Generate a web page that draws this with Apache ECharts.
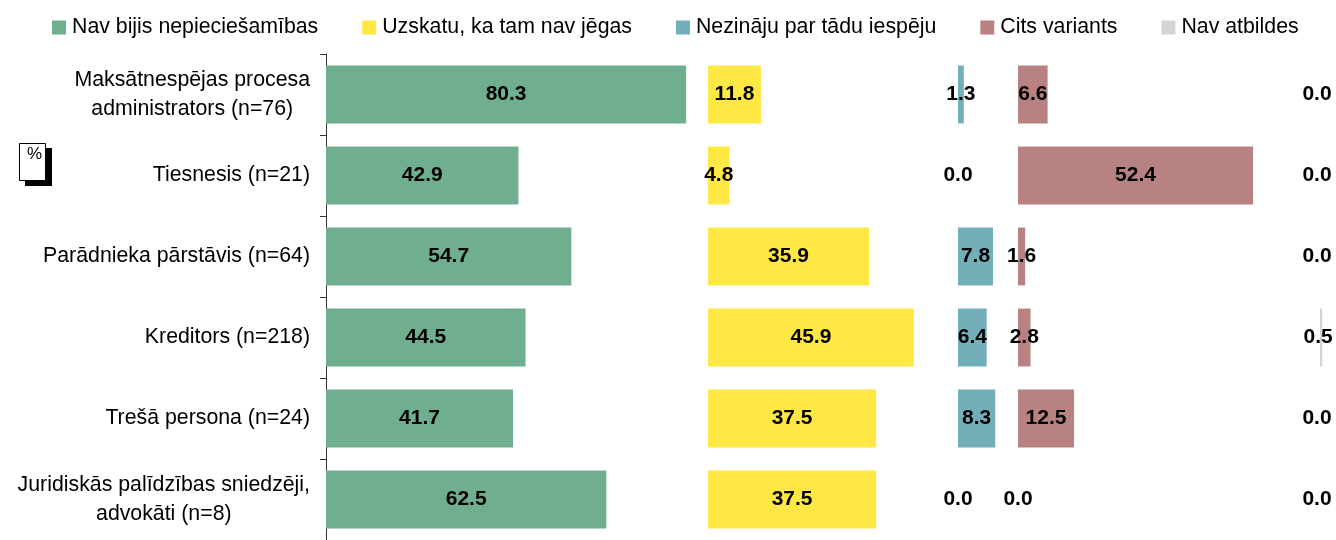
<!DOCTYPE html>
<html>
<head>
<meta charset="utf-8">
<script src="https://cdn.jsdelivr.net/npm/echarts@6/dist/echarts.min.js"></script>
<style>
  html, body { margin: 0; padding: 0; background: #fff; }
  #chart { width: 1336px; height: 540px; }
</style>
</head>
<body>
<div id="chart"></div>
<script>
// kategorijas (respondentu grupas)
const categories = [
  'Maksātnespējas procesa\nadministrators (n=76)',
  'Tiesnesis (n=21)',
  'Parādnieka pārstāvis (n=64)',
  'Kreditors (n=218)',
  'Trešā persona (n=24)',
  'Juridiskās palīdzības sniedzēji,\nadvokāti (n=8)'
]
// atbilžu varianti
const seriesNames = ['Nav bijis nepieciešamības', 'Uzskatu, ka tam nav jēgas', 'Nezināju par tādu iespēju', 'Cits variants', 'Nav atbildes']
// vērtības %
const navBijis = [80.3, 42.9, 54.7, 44.5, 41.7, 62.5]
const uzskatu = [11.8, 4.8, 35.9, 45.9, 37.5, 37.5]
const nezinaju = [1.3, 0.0, 7.8, 6.4, 8.3, 0.0]
const cits = [6.6, 52.4, 1.6, 2.8, 12.5, 0.0]
const navAtbildes = [0.0, 0.0, 0.0, 0.5, 0.0, 0.0]

const values = [navBijis, uzskatu, nezinaju, cits, navAtbildes]
const colors = ['#6faf8f', '#ffe744', '#72afb9', '#b88282', '#d4d4d4']

// paneļu sākuma pozīcijas un mērogs (px uz 1 %)
const panelLeft = [326, 708, 958, 1018, 1320]
const pxPerUnit = 4.485
const gridTop = 54
const gridHeight = 492.6
const chartWidth = 1336

const chart = echarts.init(document.getElementById('chart'))

const grids = [], xAxes = [], yAxes = [], series = []
panelLeft.forEach((left, i) => {
  // režģis nedrīkst iziet ārpus attēla, citādi echarts to saspiež
  const w = Math.min(100 * pxPerUnit, chartWidth - left)
  grids.push({ left: left, top: gridTop, width: w, height: gridHeight, containLabel: false })
  xAxes.push({ type: 'value', gridIndex: i, min: 0, max: w / pxPerUnit, show: false })
  yAxes.push({
    type: 'category',
    gridIndex: i,
    inverse: true,
    data: categories,
    show: i === 0,
    axisLine: { show: true, lineStyle: { color: '#333', width: 1 } },
    axisTick: { show: true, length: 6, lineStyle: { color: '#333' } },
    axisLabel: {
      margin: 16,
      align: 'right',
      formatter: v => '{a|' + v + '}',
      rich: {
        a: { align: 'center', fontSize: 21.3, lineHeight: 29, color: '#000', fontFamily: 'Liberation Sans, Arial, sans-serif' }
      }
    }
  })
  series.push({
    name: seriesNames[i],
    type: 'bar',
    xAxisIndex: i,
    yAxisIndex: i,
    data: values[i],
    barCategoryGap: '28.6%',
    itemStyle: { color: colors[i] },
    label: {
      show: true,
      position: 'inside',
      offset: i === 4 ? [-3, 0] : [0, 0],
      formatter: p => p.value.toFixed(1),
      color: '#000',
      fontWeight: 'bold',
      fontSize: 21,
      fontFamily: 'Liberation Sans, Arial, sans-serif'
    },
    emphasis: { disabled: true }
  })
})

chart.setOption({
  animation: false,
  textStyle: { fontFamily: 'Liberation Sans, Arial, sans-serif' },
  legend: {
    left: 52,
    top: 17,
    padding: 0,
    icon: 'rect',
    itemWidth: 14,
    itemHeight: 14,
    itemGap: 44,
    textStyle: { fontSize: 21.3, color: '#000', padding: [0, 0, 0, 1] },
    data: seriesNames
  },
  grid: grids,
  xAxis: xAxes,
  yAxis: yAxes,
  series: series,
  graphic: [
    { type: 'rect', shape: { x: 25, y: 148, width: 27, height: 38 }, style: { fill: '#000' } },
    { type: 'rect', shape: { x: 19.5, y: 143.5, width: 26, height: 37 }, style: { fill: '#fff', stroke: '#000', lineWidth: 1 } },
    { type: 'text', x: 34.5, y: 154, style: { text: '%', fontSize: 17, fill: '#000', align: 'center', verticalAlign: 'middle', fontFamily: 'Liberation Sans, Arial, sans-serif' } }
  ]
})
</script>
</body>
</html>
